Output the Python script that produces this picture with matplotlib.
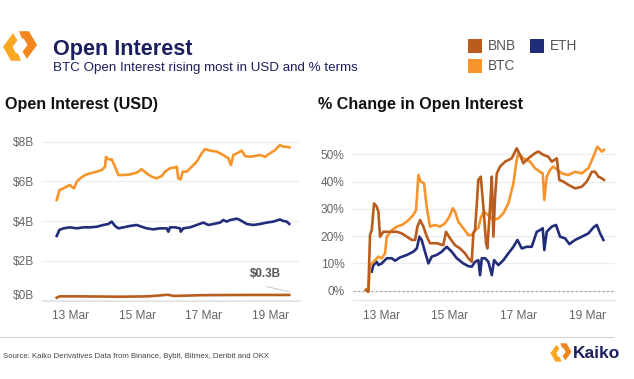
import numpy as np
import pandas as pd
import matplotlib
matplotlib.use("Agg")
import matplotlib.pyplot as plt
from matplotlib.patches import Polygon, Rectangle
from matplotlib.transforms import ScaledTranslation

plt.rcParams['font.family'] = ['Liberation Sans', 'DejaVu Sans']

BNB_COL = "#b95c1e"
BTC_COL = "#f7952c"
ETH_COL = "#222d7a"
NAVY = "#1b1f5e"
TICK_COL = "#666666"

# ---------------- data (hours after 12 Mar 00:00)
usd_btc_h = [14, 16, 19, 21, 23.6, 24.8, 26.5, 28.4, 30.8, 34.4, 38, 42.8, 46.4, 48.8, 49.5,
             51.2, 53.6, 56, 58.4, 62, 66.8, 71.6, 75.2, 78.8, 82.4, 86, 89.6, 92, 95.6, 99.2,
             100.4, 101.6, 103.3, 104.7, 107.6, 111.2, 114.8, 118.4, 120.8, 124.4, 129.2, 134,
             137.6, 139.5, 141.2, 144.8, 147.2, 149.6, 153.2, 156.8, 160.4, 164, 167.6, 171.2,
             174.8, 177.2, 179.6, 181.5]
usd_btc = [5.06, 5.56, 5.65, 5.73, 5.82, 5.73, 5.65, 5.98, 6.15, 6.32, 6.40, 6.49, 6.57, 6.74, 7.24,
           7.11, 7.11, 6.74, 6.32, 6.32, 6.35, 6.44, 6.61, 6.40, 6.24, 6.15, 6.27, 6.49, 6.66, 6.71,
           6.74, 6.15, 6.10, 6.49, 6.49, 6.74, 6.99, 7.41, 7.63, 7.55, 7.50, 7.33,
           7.16, 6.82, 7.33, 7.45, 7.55, 7.28, 7.24, 7.28, 7.33, 7.24, 7.41, 7.58,
           7.83, 7.75, 7.75, 7.71]

usd_eth_h = [14, 15.9, 18.8, 23.6, 28.4, 33.2, 38, 42.8, 47.6, 51.2, 53.6, 56, 58.4, 62, 66.8,
             71.6, 75.2, 78.8, 83.6, 88.4, 93.2, 94.4, 95.6, 99.2, 102.8, 103.3, 105.2, 110,
             114.8, 119.6, 123.2, 126.8, 131.6, 134, 136.4, 138.8, 141.2, 143.6, 146, 150.8,
             155.6, 160.4, 165.2, 170, 174.8, 177.2, 179.6, 181.5]
usd_eth = [3.24, 3.55, 3.63, 3.68, 3.63, 3.68, 3.68, 3.71, 3.80, 3.85, 3.97, 3.75, 3.63, 3.68, 3.75,
           3.80, 3.71, 3.63, 3.58, 3.63, 3.63, 3.46, 3.68, 3.68, 3.63, 3.46, 3.63, 3.68,
           3.80, 3.92, 3.80, 3.85, 3.92, 4.05, 3.97, 4.05, 4.08, 4.12, 4.05, 3.85,
           3.80, 3.85, 3.92, 3.97, 4.08, 4.00, 3.97, 3.85]

usd_bnb_h = [14, 16, 30, 60, 80, 94, 98, 120, 150, 181.5]
usd_bnb = [0.13, 0.20, 0.20, 0.18, 0.20, 0.28, 0.22, 0.26, 0.27, 0.27]

pct_btc_h = [13.5, 15.1, 16.3, 17.5, 19.8, 22.1, 24.5, 26.8, 28, 31.5, 35, 38.5, 42, 44.3, 46.6,
             48.5, 50.1, 51.7, 54, 55.9, 58.2, 61.7, 65.2, 68.7, 71.7, 74.1, 75.7, 78, 81.5, 85,
             87.4, 89.7, 92, 93.9, 96, 102.5, 106, 109.5, 113, 116.5, 118.8, 119.9, 123.4, 128.1,
             131.6, 135.1, 137, 138.1, 139.8, 142.1, 144.4, 147.2, 150.3, 154.9, 159.6, 164.3,
             168.9, 172.4, 175.2, 178.3, 179.8]
pct_btc = [0.5, -0.3, 9.0, 10.0, 11.2, 12.5, 11.9, 13.7, 19.8, 22.2, 23.5, 24.1, 25.3, 26.5, 27.8,
           29.6, 42.4, 40.0, 39.4, 30.8, 23.5, 24.1, 23.5, 24.7, 27.1, 30.2, 29.0, 25.3, 22.9, 20.4,
           20.4, 22.2, 23.0, 27.0, 29.0, 25.9, 26.5, 28.4, 32.0, 39.4, 47.9, 50.4, 48.5, 47.3,
           44.9, 43.6, 43.0, 33.3, 41.8, 44.3, 45.5, 44.3, 43.0, 42.4, 43.6, 43.0,
           44.9, 49.1, 52.8, 51.0, 51.6]

pct_bnb_h = [13.5, 15.1, 16.3, 17.5, 19.1, 21, 22.1, 23.3, 25.6, 30.3, 35, 38.5, 42, 45.5, 47.8,
             49.4, 51.3, 53.6, 56, 58.2, 62.9, 67.5, 69.4, 72.2, 75.7, 79.2, 82.7, 85, 87.4, 88.5,
             89.7, 92, 93.7, 95.5, 97.4, 98.3, 100.2, 101.4, 102.5, 103.7, 104.9, 107.2, 110.7,
             115.3, 118.8, 121.1, 123.4, 126.9, 131.6, 133.9, 137.4, 140.9, 143.3, 146.8, 148.6,
             151.4, 154.9, 159.6, 164.3, 167.8, 171.3, 173.6, 175.9, 178.3, 179.8]
pct_bnb = [0.2, -0.4, 20.4, 22.2, 32.0, 30.8, 29.0, 19.8, 21.6, 21.6, 21.6, 21.0, 19.8, 18.6, 18.6,
           23.5, 25.9, 23.5, 19.8, 17.4, 17.4, 16.7, 21.6, 19.2, 16.7, 15.5, 13.7, 11.9, 10.6, 21.0,
           22.2, 40.6, 41.8, 30.8, 17.4, 15.5, 30.8, 41.8, 19.8, 34.5, 43.0, 45.5, 47.3,
           48.5, 52.2, 49.8, 46.7, 48.5, 50.4, 51.0, 49.8, 49.1, 47.3, 48.5, 40.6,
           40.0, 38.8, 37.5, 38.1, 40.0, 43.6, 43.6, 41.8, 41.2, 40.6]

pct_eth_h = [17.5, 18.6, 21, 22.1, 24.5, 28, 31.5, 33.8, 37.3, 42, 46.6, 49, 50.8, 52.4, 54.7,
             57.1, 59.4, 62.9, 66.4, 69.9, 73.4, 76.9, 81.5, 85, 87.4, 89.7, 92, 93.2, 94.4,
             96.7, 99, 101.4, 103, 106, 109.5, 113, 116.5, 119.3, 122.3, 125.8, 129.3, 132.8,
             135.1, 137, 138.1, 139.8, 143.3, 146.3, 149.1, 152.6, 155.6, 159.6, 164.3, 168.9,
             172.4, 174.8, 177.1, 178.3, 179.4]
pct_eth = [7.0, 9.4, 10.6, 9.4, 10.0, 11.9, 11.9, 11.0, 12.2, 13.1, 14.3, 15.5, 19.8, 18.6, 14.3,
           10.0, 12.5, 13.1, 14.3, 16.1, 14.3, 11.9, 10.0, 9.0, 8.8, 10.6, 11.2, 5.7, 11.9,
           11.9, 10.6, 5.7, 11.2, 9.4, 11.2, 13.7, 16.1, 18.6, 15.5, 16.1, 16.1, 21.6,
           22.2, 22.9, 14.9, 21.6, 23.5, 24.1, 19.8, 19.2, 17.1, 18.6, 19.8, 21.0,
           23.2, 24.1, 21.0, 19.8, 18.6]

tick_days = ["13 Mar", "15 Mar", "17 Mar", "19 Mar"]
usd_ticks = [0, 2, 4, 6, 8]
pct_ticks = [0, 10, 20, 30, 40, 50]

base = pd.Timestamp("2024-03-12")


def to_dt(hours):
    return base + pd.to_timedelta(np.array(hours), unit="h")


W, H = 634, 379
fig = plt.figure(figsize=(W / 100, H / 100), dpi=100)
fig.patch.set_facecolor("white")


def style_axis(ax):
    for s in ["top", "left", "right"]:
        ax.spines[s].set_visible(False)
    ax.spines["bottom"].set_color("#e2e2e2")
    ax.spines["bottom"].set_linewidth(0.8)
    ax.tick_params(length=0, labelsize=8.6, labelcolor=TICK_COL)
    ax.tick_params(axis="y", pad=6)
    ax.tick_params(axis="x", pad=7)
    ax.grid(axis="y", color="#ececec", lw=0.8)
    ax.set_axisbelow(True)
    tk = [pd.Timestamp(f"2024-03-{d.split()[0]}") for d in tick_days]
    ax.set_xticks(tk)
    ax.set_xticklabels(tick_days)


# ---- left panel: USD
ax1 = fig.add_axes([42 / W, 1 - 300.7 / H, 258 / W, 168.7 / H])
ax1.plot(to_dt(usd_bnb_h), usd_bnb, color=BNB_COL, lw=1.9, solid_joinstyle="round")
ax1.plot(to_dt(usd_eth_h), usd_eth, color=ETH_COL, lw=1.9, solid_joinstyle="round")
ax1.plot(to_dt(usd_btc_h), usd_btc, color=BTC_COL, lw=1.9, solid_joinstyle="round")
style_axis(ax1)
ax1.set_xlim(to_dt([3.4])[0], to_dt([189.2])[0])
ax1.set_ylim(-0.02, 8.49)
ax1.set_yticks(usd_ticks)
ax1.set_yticklabels([f"${v}B" for v in usd_ticks])
lab0 = ax1.get_yticklabels()[0]
lab0.set_transform(lab0.get_transform() + ScaledTranslation(0, 6 / 100, fig.dpi_scale_trans))
ax1.text(to_dt([164.5])[0], 1.18, "$0.3B", ha="center", va="baseline",
         fontsize=8.4, fontweight="bold", color="#555555")
ax1.plot(to_dt([165.2, 181.4]), [0.69, 0.43], color="#c8c8c8", lw=0.7)

# ---- right panel: % change
ax2 = fig.add_axes([353 / W, 1 - 300 / H, 262 / W, 158 / H])
ax2.plot(to_dt(pct_eth_h), pct_eth, color=ETH_COL, lw=1.9, solid_joinstyle="round")
ax2.plot(to_dt(pct_btc_h), pct_btc, color=BTC_COL, lw=1.9, solid_joinstyle="round")
ax2.plot(to_dt(pct_bnb_h), pct_bnb, color=BNB_COL, lw=1.9, solid_joinstyle="round")
style_axis(ax2)
ax2.set_xlim(to_dt([4.4])[0], to_dt([187.5])[0])
ax2.set_ylim(-3.4, 54.5)
ax2.set_yticks(pct_ticks)
ax2.set_yticklabels([f"{v}%" for v in pct_ticks])
ax2.axhline(0, color="#a0a0a0", lw=0.8, ls=(0, (2, 2)), zorder=1)

# ---- overlay in pixel coordinates for header / footer
ov = fig.add_axes([0, 0, 1, 1])
ov.set_xlim(0, W)
ov.set_ylim(H, 0)
ov.axis("off")


def kaiko_icon(cx, cy, s):
    # two interlocking halves of a hexagon ring
    left = [(13, 32.5), (3, 46), (11, 60), (21, 60), (18, 52.5), (16, 52.5), (12.5, 46), (17.5, 39.5)]
    right = [(40 - x, 92 - y) for x, y in left]
    for pts, col, dy in [(left, "#f9a622", 0.8), (right, "#f5861f", -0.8)]:
        p = [(cx + (x - 20) * s, cy + (y - 46 + dy) * s) for x, y in pts]
        ov.add_patch(Polygon(p, closed=True, facecolor=col, edgecolor="none"))


kaiko_icon(20, 46, 1.0)
ov.text(53, 54.5, "Open Interest", fontsize=15.6, fontweight="bold", color=NAVY, va="baseline")
ov.text(53, 70.7, "BTC Open Interest rising most in USD and % terms", fontsize=9.6,
        color=NAVY, va="baseline")

legend_items = [("BNB", BNB_COL, 475, 45.7), ("ETH", ETH_COL, 537, 45.7), ("BTC", BTC_COL, 475, 65.7)]
for name, col, sx, sy in legend_items:
    ov.add_patch(Rectangle((sx - 7, sy - 7), 14, 14, facecolor=col, edgecolor="none"))
    ov.text(sx + 13, sy + 4.5, name, fontsize=9.8, color="#555555", va="baseline")

ov.text(5, 108.5, "Open Interest (USD)", fontsize=11.6, fontweight="bold", color="#111111", va="baseline")
ov.text(318, 108.5, "% Change in Open Interest", fontsize=11.6, fontweight="bold", color="#111111",
        va="baseline")

ov.plot([0, 613], [337, 337], color="#d4d4d4", lw=0.8)
ov.text(3, 358.5, "Source: Kaiko Derivatives Data from Binance, Bybit, Bitmex, Deribit and OKX",
        fontsize=5.6, color="#444444", va="baseline")
kaiko_icon(561, 352.5, 0.62)
ov.text(573, 358.5, "Kaiko", fontsize=12.5, fontweight="bold", color=NAVY, va="baseline")

fig.savefig("out.png", dpi=100)
